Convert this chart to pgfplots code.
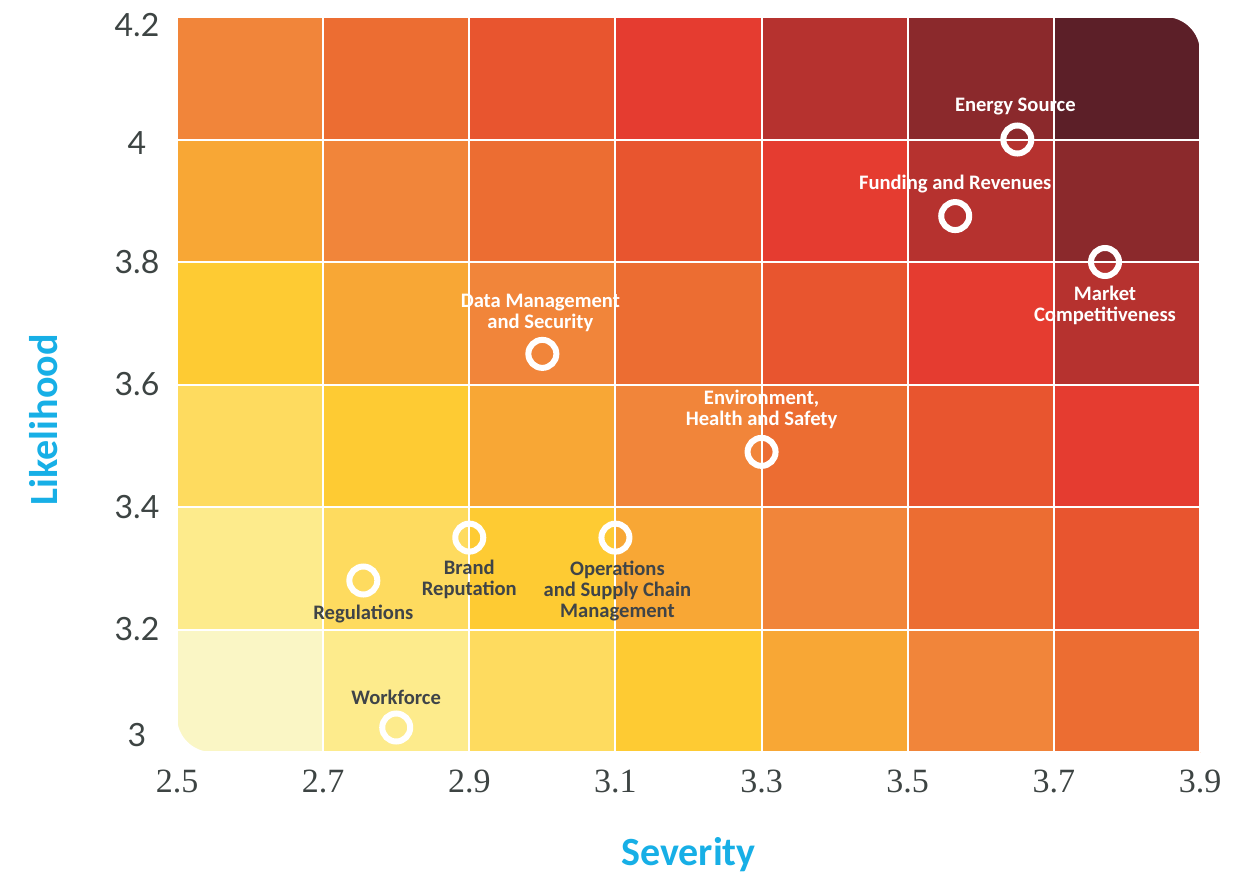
\documentclass[border=0pt]{standalone}
\usepackage{pgfplots}
\pgfplotsset{compat=1.18}
\usepackage{pgfplotstable}
\usepackage{fontspec}
\newfontfamily\carlito{Carlito}
\newfontfamily\lato{Lato}
\newfontfamily\libserif{Liberation Serif}
\definecolor{tickgray}{HTML}{3D4443}
\definecolor{labdark}{HTML}{3F4448}
\definecolor{axcyan}{HTML}{17AFE6}

\pgfplotstableread{
x y c
2.6 3.1 0
2.8 3.1 1
3.0 3.1 2
3.2 3.1 3
3.4 3.1 4
3.6 3.1 5
3.8 3.1 6
2.6 3.3 1
2.8 3.3 2
3.0 3.3 3
3.2 3.3 4
3.4 3.3 5
3.6 3.3 6
3.8 3.3 7
2.6 3.5 2
2.8 3.5 3
3.0 3.5 4
3.2 3.5 5
3.4 3.5 6
3.6 3.5 7
3.8 3.5 8
2.6 3.7 3
2.8 3.7 4
3.0 3.7 5
3.2 3.7 6
3.4 3.7 7
3.6 3.7 8
3.8 3.7 9
2.6 3.9 4
2.8 3.9 5
3.0 3.9 6
3.2 3.9 7
3.4 3.9 8
3.6 3.9 9
3.8 3.9 10
2.6 4.1 5
2.8 4.1 6
3.0 4.1 7
3.2 4.1 8
3.4 4.1 9
3.6 4.1 10
3.8 4.1 11
}\cells

\pgfplotstableread{
x y
3.650 4.000
3.565 3.875
3.770 3.800
3.000 3.650
3.300 3.490
2.900 3.350
3.100 3.350
2.755 3.280
2.800 3.040
}\risks

\begin{document}
\begin{tikzpicture}
\begin{axis}[
  scale only axis, width=511.5pt, height=367.5pt,
  xmin=2.5, xmax=3.9, ymin=3, ymax=4.2,
  axis on top,
  axis line style={draw=none},
  major tick length=0pt,
  xtick={2.5,2.7,2.9,3.1,3.3,3.5,3.7,3.9},
  xticklabels={2.5,2.7,2.9,3.1,3.3,3.5,3.7,3.9},
  ytick={3,3.2,3.4,3.6,3.8,4,4.2},
  yticklabels={\raisebox{8.5pt}[\height][\depth]{3},3.2,3.4,3.6,3.8,\raisebox{-2pt}[\height][\depth]{4},\raisebox{-4pt}[\height][\depth]{4.2}},
  grid=major,
  major grid style={white, line width=1pt},
  xticklabel style={anchor=center, yshift=-14.5pt, font=\libserif\fontsize{17}{17}\selectfont, text=tickgray},
  yticklabel style={anchor=center, xshift=-20pt, font=\lato\fontsize{16}{16}\selectfont, text=tickgray},
  colormap={risk}{rgb255=(250,246,197) rgb255=(253,235,140) rgb255=(254,219,95) rgb255=(254,203,51) rgb255=(248,167,53) rgb255=(241,133,58) rgb255=(236,109,50) rgb255=(232,85,47) rgb255=(229,60,48) rgb255=(182,50,47) rgb255=(139,41,44) rgb255=(92,31,40)},
  xlabel={Severity},
  ylabel={Likelihood},
  xlabel style={at={([yshift=-51.5pt]axis description cs:0.5,0)}, anchor=center, font=\carlito\bfseries\fontsize{20}{20}\selectfont, text=axcyan},
  ylabel style={at={([xshift=-66.5pt]axis description cs:0,0.452)}, anchor=center, font=\carlito\bfseries\fontsize{20}{20}\selectfont, text=axcyan},
]
\addplot[matrix plot*, mesh/cols=7, point meta=explicit, colormap access=direct] table[x=x, y=y, meta=c] {\cells};
\addplot[only marks, mark=o, mark size=7pt, mark options={draw=white, line width=3pt}] table[x=x, y=y] {\risks};
\coordinate (pE) at (axis cs:3.65,4.0);
\coordinate (pF) at (axis cs:3.565,3.875);
\coordinate (pM) at (axis cs:3.77,3.8);
\coordinate (pD) at (axis cs:3.0,3.65);
\coordinate (pH) at (axis cs:3.3,3.49);
\coordinate (pB) at (axis cs:2.9,3.35);
\coordinate (pO) at (axis cs:3.1,3.35);
\coordinate (pR) at (axis cs:2.755,3.28);
\coordinate (pW) at (axis cs:2.8,3.04);
\end{axis}
% rounded corners of the matrix
\fill[white] ([xshift=-17.5pt]current axis.north east) arc[start angle=90, end angle=0, radius=17.5pt] -- ++(1pt,0) -- ([xshift=1pt,yshift=1pt]current axis.north east) -- ([xshift=-17.5pt,yshift=1pt]current axis.north east) -- cycle;
\fill[white] ([xshift=17.5pt]current axis.south west) arc[start angle=270, end angle=180, radius=17.5pt] -- ++(-1pt,0) -- ([xshift=-1pt,yshift=-1pt]current axis.south west) -- ([xshift=17.5pt,yshift=-1pt]current axis.south west) -- cycle;
% labels
\tikzset{lab/.style={font=\carlito\bfseries\fontsize{10.3}{10.5}\selectfont, align=center, inner sep=0pt}}
\node[lab, text=white] at ([xshift=-1pt,yshift=16.5pt]pE) {Energy Source};
\node[lab, text=white] at ([yshift=16pt]pF) {Funding and Revenues};
\node[lab, text=white] at ([yshift=-21.5pt]pM) {Market\\Competitiveness};
\node[lab, text=white] at ([xshift=-1pt,yshift=20.5pt]pD) {Data Management\\and Security};
\node[lab, text=white] at ([yshift=21pt]pH) {Environment,\\Health and Safety};
\node[lab, text=labdark] at ([yshift=-21pt]pB) {Brand\\Reputation};
\node[lab, text=labdark] at ([xshift=1pt,yshift=-26.5pt]pO) {Operations\\and Supply Chain\\Management};
\node[lab, text=labdark] at ([yshift=-16.5pt]pR) {Regulations};
\node[lab, text=labdark] at ([yshift=15pt]pW) {Workforce};
\pgfresetboundingbox
\path[use as bounding box] ([xshift=-88.5pt,yshift=-61.5pt]current axis.south west) rectangle ([xshift=23pt,yshift=8.5pt]current axis.north east);
\end{tikzpicture}
\end{document}
